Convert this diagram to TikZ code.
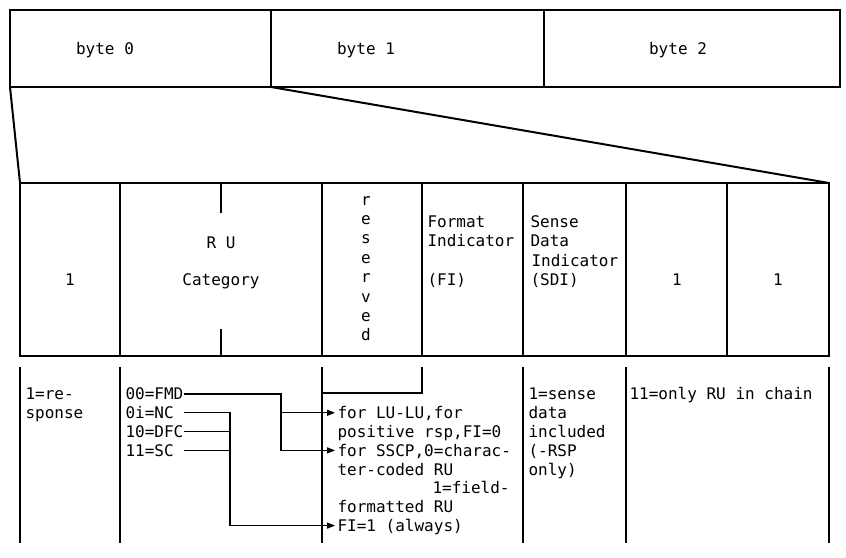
\documentclass[tikz,border=0pt]{standalone}
\usepackage{fontspec}
\newfontfamily\ibmmono{DejaVu Sans Mono}
\usetikzlibrary{arrows.meta}

\begin{document}
\begin{tikzpicture}[x=1pt, y=-1pt, line width=1.1pt,
  fld/.style={font=\ibmmono\fontsize{16}{19.4}\selectfont, inner sep=0pt},
  row/.style={fld, text height=11.7pt, text depth=0pt},
  fan/.style={line width=2pt},
  ptr/.style={-{Triangle[length=8pt,width=6pt]}, shorten >=2pt}]
\useasboundingbox (0,0) rectangle (846,557);
% the three bytes
\draw (10,10) rectangle (840,87); \draw (271,10) -- (271,87); \draw (544,10) -- (544,87);
\node[row] (byte0) at (105,49) {byte 0}; \node[row] (byte1) at (366,49) {byte 1}; \node[row] (byte2) at (678,49) {byte 2};
% byte 0 blown up
\draw[fan] (10,87) -- (20,183); \draw[fan] (271,87) -- (829,183);
\draw (20,183) rectangle (829,356);
\draw (120,183) -- (120,356); \draw (322,183) -- (322,356); \draw (422,183) -- (422,356); \draw (523,183) -- (523,356); \draw (626,183) -- (626,356); \draw (727,183) -- (727,356);
\draw (221,183) -- (221,213); \draw (221,329) -- (221,356);
\node[row] (rsp) at (70,280) {1};
\node[row] (ru) at (221,243) {R U}; \node[row] (rucat) at (221,280) {Category};
\node[fld, align=center] (rsvd) at (366,268.6) {r\\e\\s\\e\\r\\v\\e\\d};
\node[row, anchor=west] (fmt1) at (427,221.5) {Format}; \node[row, anchor=west] (fmt2) at (427,241) {Indicator}; \node[row, anchor=west] (fmt3) at (427,280) {(FI)};
\node[row, anchor=west] (sdi1) at (530,221.5) {Sense}; \node[row, anchor=west] (sdi2) at (530,241) {Data}; \node[row, anchor=west] (sdi3) at (531,260.5) {Indicator}; \node[row, anchor=west] (sdi4) at (530,280) {(SDI)};
\node[row] (bci) at (677,280) {1}; \node[row] (eci) at (778,280) {1};
% meaning of the bits
\draw (20,367) -- (20,543); \draw (120,367) -- (120,543); \draw (322,367) -- (322,543); \draw (523,367) -- (523,543); \draw (626,367) -- (626,543); \draw (829,367) -- (829,543);
\draw (422,367) -- (422,393) -- (322,393);
\node[row, anchor=west] (resp1) at (25,394) {1=re-}; \node[row, anchor=west] (resp2) at (25,412.8) {sponse};
\node[row, anchor=west] (fmd) at (125,394) {00=FMD}; \node[row, anchor=west] (nc) at (125,412.8) {0i=NC};
\node[row, anchor=west] (dfc) at (125,431.6) {10=DFC}; \node[row, anchor=west] (sc) at (125,450.4) {11=SC};
\node[row, anchor=west] (lulu) at (337,412.8) {for LU-LU,for}; \node[row, anchor=west] (posrsp) at (337,431.6) {positive rsp,FI=0};
\node[row, anchor=west] (sscp) at (337,450.4) {for SSCP,0=charac-}; \node[row, anchor=west] (chrru) at (337,469.2) {ter-coded RU};
\node[row, anchor=west] (fld1) at (432,488) {1=field-}; \node[row, anchor=west] (fld2) at (337,506.8) {formatted RU};
\node[row, anchor=west] (fione) at (337,525.6) {FI=1 (always)};
\node[row, anchor=west] (sns1) at (528,394) {1=sense}; \node[row, anchor=west] (sns2) at (528,412.8) {data};
\node[row, anchor=west] (sns3) at (528,431.6) {included}; \node[row, anchor=west] (sns4) at (528,450.4) {(-RSP};
\node[row, anchor=west] (sns5) at (528,469.2) {only)};
\node[row, anchor=west] (chain) at (629,394) {11=only RU in chain};
% RU category to FI
\coordinate (fmdjoin) at (281,394); \coordinate (ncjoin) at (230,412.8);
\draw[ptr] (fmd.east) -- (fmdjoin) |- (sscp.west); \draw[ptr] (fmdjoin |- lulu.west) -- (lulu.west);
\draw[ptr] (fmd.east |- nc.east) -| (ncjoin |- fione.west) -- (fione.west);
\draw (dfc.east) -- (ncjoin |- dfc.east); \draw (fmd.east |- sc.east) -- (ncjoin |- sc.east);
\end{tikzpicture}
\end{document}
